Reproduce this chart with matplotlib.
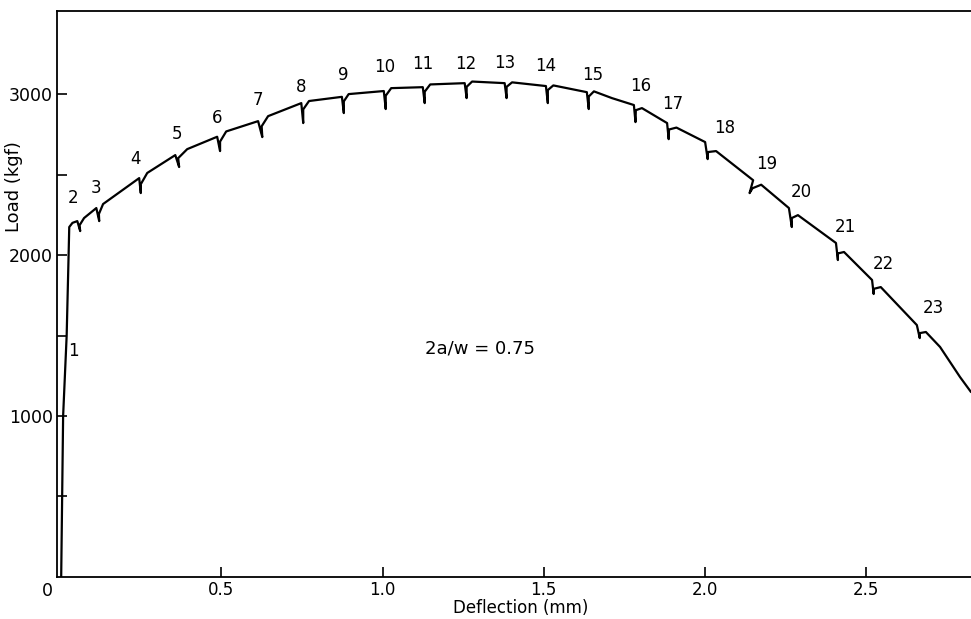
import numpy as np
import matplotlib.pyplot as plt

plt.rcParams['font.family'] = ['DejaVu Sans']

# load-deflection record (deflection in mm, load in kgf)
# each pop-in is peak -> bottom of drop -> back up the drop -> recovery
defl = [0.003, 0.009, 0.020, 0.026, 0.028, 0.038,
        0.053, 0.062, 0.060, 0.074,
        0.112, 0.121, 0.120, 0.133,
        0.245, 0.250, 0.250, 0.270,
        0.357, 0.369, 0.366, 0.394,
        0.487, 0.496, 0.496, 0.515,
        0.614, 0.627, 0.625, 0.645,
        0.748, 0.754, 0.754, 0.772,
        0.874, 0.880, 0.880, 0.895,
        1.004, 1.010, 1.010, 1.027,
        1.125, 1.131, 1.131, 1.148,
        1.255, 1.261, 1.261, 1.278,
        1.379, 1.385, 1.385, 1.402,
        1.507, 1.513, 1.513, 1.530,
        1.634, 1.640, 1.640, 1.656,
        1.712,
        1.780, 1.785, 1.786, 1.805,
        1.883, 1.888, 1.889, 1.912,
        2.001, 2.009, 2.010, 2.035,
        2.150, 2.139, 2.148, 2.175,
        2.261, 2.270, 2.270, 2.289,
        2.407, 2.413, 2.413, 2.432,
        2.519, 2.524, 2.524, 2.546,
        2.658, 2.667, 2.667, 2.686,
        2.730, 2.792, 2.826]
load = [0, 1000, 1500, 2000, 2174, 2200,
        2211, 2149, 2185, 2230,
        2292, 2211, 2255, 2317,
        2478, 2385, 2440, 2510,
        2621, 2547, 2602, 2658,
        2735, 2646, 2705, 2768,
        2832, 2733, 2800, 2863,
        2944, 2820, 2905, 2957,
        2983, 2882, 2955, 3000,
        3019, 2907, 2990, 3037,
        3043, 2944, 3015, 3060,
        3068, 2975, 3045, 3078,
        3068, 2975, 3045, 3073,
        3050, 2944, 3025, 3054,
        3012, 2907, 2985, 3017,
        2975,
        2932, 2826, 2900, 2913,
        2820, 2720, 2780, 2792,
        2702, 2596, 2640, 2646,
        2465, 2385, 2415, 2437,
        2292, 2174, 2230, 2248,
        2075, 1969, 2010, 2019,
        1845, 1758, 1790, 1801,
        1565, 1484, 1515, 1522,
        1429, 1242, 1149]

# pop-in numbers and where they sit on the curve
popin_no = list(range(1, 24))
popin_defl = [0.020, 0.053, 0.112, 0.245, 0.357, 0.487, 0.614, 0.748, 0.874,
              1.004, 1.125, 1.255, 1.379, 1.507, 1.634, 1.780, 1.883, 2.001,
              2.150, 2.261, 2.407, 2.519, 2.658]
popin_load = [1500, 2211, 2292, 2478, 2621, 2735, 2832, 2944, 2983,
              3019, 3043, 3068, 3068, 3050, 3012, 2932, 2820, 2702,
              2465, 2292, 2075, 1845, 1565]
# label offsets in points (dx, dy)
label_off = [(5, -11), (-3, 10), (0, 8), (-3, 7), (1, 9), (0, 7), (0, 9),
             (0, 5), (1, 9), (1, 11), (0, 10), (1, 7), (0, 8), (0, 8),
             (4, 6), (5, 7), (4, 7), (14, 4), (10, 5), (9, 5), (7, 5),
             (8, 5), (12, 6)]

fig = plt.figure(figsize=(9.71, 6.19), dpi=100)
ax = fig.add_axes([0.0587, 0.0679, 0.9413, 0.914])

ax.plot(defl, load, color='black', linewidth=1.6,
        solid_joinstyle='round', solid_capstyle='round')

for n, x, y, off in zip(popin_no, popin_defl, popin_load, label_off):
    ax.annotate(str(n), xy=(x, y), xytext=off, textcoords='offset points',
                ha='center', va='bottom' if off[1] > 0 else 'center',
                fontsize=12)

ax.text(1.303, 1420, '2a/w = 0.75', ha='center', va='center', fontsize=13)

ax.set_xlim(-0.01, 2.826)
ax.set_ylim(0, 3515)

ax.set_xticks([0.5, 1.0, 1.5, 2.0, 2.5])
ax.set_xticklabels(['0.5', '1.0', '1.5', '2.0', '2.5'])
ax.set_yticks([1000, 2000, 3000])
ax.set_yticks(np.arange(500, 3500, 1000), minor=True)
ax.tick_params(axis='both', which='both', direction='in', length=7,
               width=1.2, labelsize=12.5)
ax.tick_params(axis='x', pad=3, labelsize=12)
ax.tick_params(axis='y', pad=3)

ax.annotate('0', xy=(0, 0), xytext=(-9, -10), textcoords='offset points',
            ha='center', va='center', fontsize=12.5)

for side in ['left', 'bottom', 'top']:
    ax.spines[side].set_linewidth(1.3)
ax.spines['right'].set_visible(False)

ax.set_xlabel('Deflection (mm)', fontsize=12)
ax.xaxis.set_label_coords(0.507, -0.039)
ax.set_ylabel('Load (kgf)', fontsize=13)
ax.yaxis.set_label_coords(-0.037, 0.69)

fig.savefig('out.png', dpi=100)
